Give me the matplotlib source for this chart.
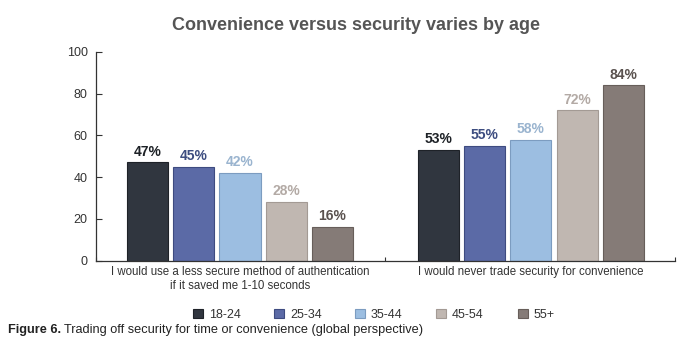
import numpy as np
import matplotlib
matplotlib.use("Agg")
import matplotlib.pyplot as plt
from matplotlib.patches import Patch

plt.rcParams["font.family"] = ["Liberation Sans", "DejaVu Sans"]

# ── data ──
categories = ["I would use a less secure method of authentication\nif it saved me 1-10 seconds",
              "I would never trade security for convenience"]
age_groups = ["18-24", "25-34", "35-44", "45-54", "55+"]
values = {
    "18-24": [47, 53],
    "25-34": [45, 55],
    "35-44": [42, 58],
    "45-54": [28, 72],
    "55+":   [16, 84],
}

bar_colors   = ["#30363f", "#5b6aa6", "#9cbee1", "#c0b7b1", "#857b77"]
edge_colors  = ["#1e2228", "#3e4b80", "#7c9cc0", "#a39a94", "#675e5a"]
label_colors = ["#1d2126", "#3d4d80", "#9ab4cf", "#b3aaa5", "#5a524f"]

fig = plt.figure(figsize=(6.92, 3.42), dpi=100)
ax = fig.add_axes([0.1387, 0.2383, 0.8367, 0.6097])

x = np.arange(len(categories))
pitch, width = 0.159, 0.141
for i, g in enumerate(age_groups):
    xs = x + (i - 2) * pitch
    ax.bar(xs, values[g], width, color=bar_colors[i], edgecolor=edge_colors[i],
           linewidth=0.8, label=g)
    for xb, v in zip(xs, values[g]):
        ax.text(xb, v + 1.8, f"{v}%", ha="center", va="bottom", fontsize=10,
                fontweight="bold", color=label_colors[i])

ax.set_xlim(-0.495, 1.495)
ax.set_ylim(0, 100)
ax.set_yticks([0, 20, 40, 60, 80, 100])
ax.tick_params(axis="y", direction="in", length=4, width=0.8, color="#333333",
               labelsize=9, labelcolor="#333333", pad=6)
ax.set_xticks([-0.495, 0.5, 1.495])
ax.set_xticklabels([])
ax.tick_params(axis="x", direction="in", length=3, width=0.8, color="#333333")
for s in ["top", "right"]:
    ax.spines[s].set_visible(False)
for s in ["left", "bottom"]:
    ax.spines[s].set_color("#333333")
    ax.spines[s].set_linewidth(0.9)

for xc, cat in zip(x, categories):
    ax.text(xc, -2.6, cat, ha="center", va="top", fontsize=8.3, color="#333333",
            linespacing=1.25)

fig.text(0.515, 0.925, "Convenience versus security varies by age", ha="center", va="center",
         fontsize=13, fontweight="bold", color="#555555")

handles = [Patch(facecolor=bar_colors[i], edgecolor=edge_colors[i], linewidth=0.8)
           for i in range(len(age_groups))]
fig.legend(handles, age_groups, loc="center", bbox_to_anchor=(0.54, 0.08), ncol=5,
           frameon=False, fontsize=9, handlelength=0.8, handleheight=0.8,
           columnspacing=2.7, handletextpad=0.45, labelcolor="#333333")

fig.canvas.draw()
r = fig.canvas.get_renderer()
cap = fig.text(0.012, 0.035, "Figure 6.", ha="left", va="center", fontsize=9.2,
               fontweight="bold", color="#222222")
bb = cap.get_window_extent(renderer=r)
fig.text((bb.x1 + 3) / fig.bbox.width, 0.035,
         "Trading off security for time or convenience (global perspective)",
         ha="left", va="center", fontsize=9.2, color="#222222")

fig.savefig("out.png", dpi=100)
